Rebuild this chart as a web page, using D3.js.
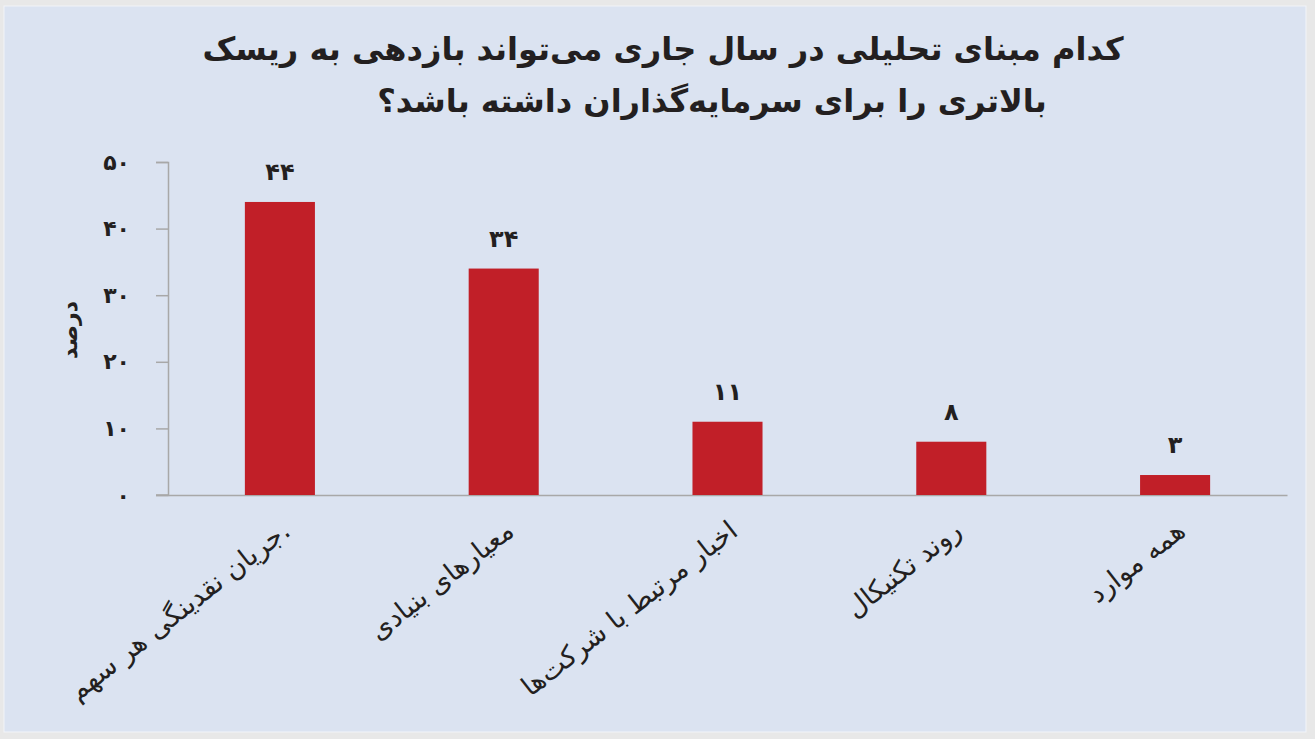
<!DOCTYPE html>
<html>
<head>
<meta charset="utf-8">
<script src="https://cdn.jsdelivr.net/npm/d3@7/dist/d3.min.js"></script>
<style>
  html, body { margin: 0; padding: 0; background: #e8e8e8; }
  svg { display: block; }
  text { font-family: "DejaVu Sans", sans-serif; }
</style>
</head>
<body>
<svg id="chart" width="1315" height="739"></svg>
<script>
const titleLines = [
  "کدام مبنای تحلیلی در سال جاری می‌تواند بازدهی به ریسک",
  "بالاتری را برای سرمایه‌گذاران داشته باشد؟"
];
const categories = [
  "جریان نقدینگی هر سهم.",
  "معیارهای بنیادی",
  "اخبار مرتبط با شرکت‌ها",
  "روند تکنیکال",
  "همه موارد"
];
const values = [44, 34, 11, 8, 3];
const yTicks = [0, 10, 20, 30, 40, 50];
const yLabel = "درصد";

const faDigits = "۰۱۲۳۴۵۶۷۸۹";
const toFa = n => String(n).replace(/\d/g, d => faDigits[+d]);

const W = 1315, H = 739;
const svg = d3.select("#chart");

svg.append("rect").attr("x", 0).attr("y", 0).attr("width", W).attr("height", H).attr("fill", "#e8e8e8");
svg.append("rect").attr("x", 4).attr("y", 6).attr("width", 1302).attr("height", 726)
  .attr("fill", "#dbe3f1").attr("stroke", "#f2f4f8").attr("stroke-width", 1);

const margin = { left: 168, right: 1287, top: 162, bottom: 495 };
const x = d3.scaleBand().domain(categories).range([margin.left, margin.right]).paddingInner(0.687).paddingOuter(0.3435);
const y = d3.scaleLinear().domain([0, 50]).range([margin.bottom, margin.top]);

// Title
const titleX = [663, 712];
const titleY = [60, 112];
titleLines.forEach((t, i) => {
  svg.append("text")
    .attr("x", titleX[i]).attr("y", titleY[i])
    .attr("text-anchor", "middle")
    .attr("font-size", 32).attr("font-weight", "bold")
    .attr("fill", "#231f20")
    .text(t);
});

// Y axis
const yAxis = d3.axisLeft(y).tickValues(yTicks).tickSize(12).tickFormat(toFa);
const gy = svg.append("g").attr("transform", `translate(${margin.left},0)`).call(yAxis);
gy.select(".domain").attr("stroke", "#a8a8a8").attr("stroke-width", 1.5);
gy.selectAll(".tick line").attr("stroke", "#a8a8a8").attr("stroke-width", 1.5);
gy.selectAll(".tick text")
  .attr("x", -38)
  .attr("font-size", 22).attr("font-weight", "bold")
  .attr("fill", "#231f20")
  .attr("font-family", "DejaVu Sans");

// X axis baseline
const xAxis = d3.axisBottom(x).tickSize(0).tickFormat("");
const gx = svg.append("g").attr("transform", `translate(0,${margin.bottom})`).call(xAxis);
gx.select(".domain").attr("stroke", "#a8a8a8").attr("stroke-width", 1.5);
svg.append("line").attr("x1", margin.left - 12).attr("x2", margin.left)
  .attr("y1", margin.bottom).attr("y2", margin.bottom)
  .attr("stroke", "#a8a8a8").attr("stroke-width", 1.5);

// Bars
svg.append("g").selectAll("rect").data(values).join("rect")
  .attr("x", (d, i) => x(categories[i]))
  .attr("y", d => y(d))
  .attr("width", x.bandwidth())
  .attr("height", d => y(0) - y(d))
  .attr("fill", "#c11f28");

// Value labels
svg.append("g").selectAll("text").data(values).join("text")
  .attr("x", (d, i) => x(categories[i]) + x.bandwidth() / 2)
  .attr("y", d => y(d) - 22)
  .attr("text-anchor", "middle")
  .attr("font-size", 24).attr("font-weight", "bold")
  .attr("letter-spacing", 2)
  .attr("fill", "#231f20")
  .text(d => toFa(d));

// Category labels
svg.append("g").selectAll("text").data(categories).join("text")
  .attr("transform", d => `translate(${x(d) + x.bandwidth() / 2 + 12},${534}) rotate(-38)`)
  .attr("text-anchor", "end")
  .attr("font-size", 27)
  .attr("fill", "#231f20")
  .text(d => d);

// Y label
svg.append("text")
  .attr("transform", "translate(77,330) rotate(-90)")
  .attr("text-anchor", "middle")
  .attr("font-size", 22).attr("font-weight", "bold")
  .attr("fill", "#231f20")
  .text(yLabel);
</script>
</body>
</html>
